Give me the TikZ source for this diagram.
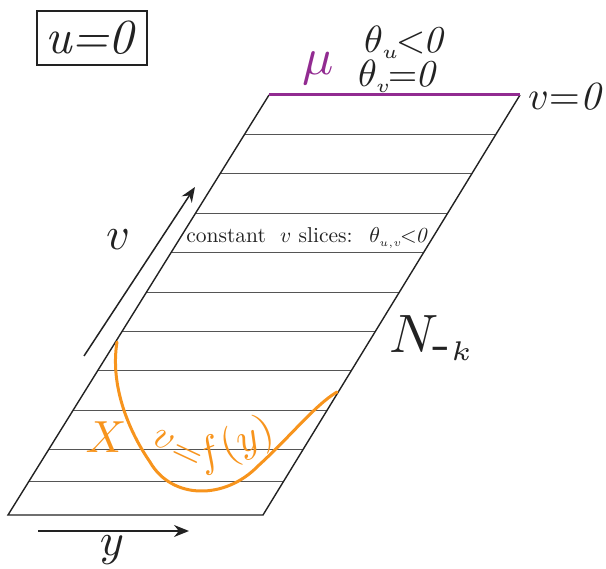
\documentclass[tikz,border=0pt]{standalone}
\usepackage{graphicx}
\usetikzlibrary{arrows.meta,calc}
\definecolor{mupurple}{HTML}{922B91}
\definecolor{curveorange}{HTML}{F7941D}
\definecolor{ink}{HTML}{222222}
\definecolor{slicegray}{HTML}{555555}
\tikzset{
  edge/.style={draw=ink, line width=1.4pt, line join=miter},
  slice/.style={draw=slicegray, line width=0.9pt},
  axisarrow/.style={draw=ink, line width=1.5pt, -{Stealth[length=15pt,width=12pt]}},
  lbl/.style={text=ink, inner sep=0pt},
  orangelbl/.style={text=curveorange, inner sep=0pt},
}
\newcommand{\sz}[2]{\scalebox{#1}{#2}}
\newcommand{\ssub}[1]{_{\scriptscriptstyle #1}}
\begin{document}
\begin{tikzpicture}[x=1pt,y=-1pt]
\useasboundingbox (0,0) rectangle (606,569);
% parallelogram corners
\coordinate (BL) at (8,515);
\coordinate (BR) at (263,515);
\coordinate (TL) at (269,95);
\coordinate (TR) at (520,95);
% slices
\foreach \t in {0.9071,0.8143,0.7190,0.6262,0.5310,0.4381,0.3452,0.2500,0.1571,0.0810}{
  \draw[slice] ($(BL)!\t!(TL)$) -- ($(BR)!\t!(TR)$);
}
% edges
\draw[edge] (TL) -- (BL) -- (BR) -- (TR);
\draw[draw=mupurple, line width=3pt] (TL) -- (TR);
% axis arrows
\coordinate (vtail) at (84,356);
\coordinate (vhead) at (195,187);
\coordinate (ytail) at (38,531);
\coordinate (yhead) at (189,531);
\draw[axisarrow] (vtail) -- (vhead);
\draw[axisarrow] (ytail) -- (yhead);
% orange curve
\coordinate (c0) at (117,342);
\coordinate (c1) at (150,462);
\coordinate (c2) at (258,466);
\coordinate (c3) at (337,392);
\draw[draw=curveorange, line width=3pt, line cap=round]
  (c0) .. controls (110,385) and (128,430) .. (c1)
       .. controls (172,500) and (225,500) .. (c2)
       .. controls (290,437) and (315,405) .. (c3);
% labels
\node[lbl, draw=ink, line width=1.3pt, minimum width=110pt, minimum height=54pt] (ubox) at (92,38) {\sz{4.9}{\itshape u=0\kern1pt}};
\node[lbl, text=mupurple] (mu) at (318,68) {\sz{5.2}{$\mu$}};
\node[lbl] (thu) at (406,42) {\sz{3.8}{$\theta\ssub{u}\mkern-2mu{<}\mkern-1mu\mathit{0}$}};
\node[lbl] (thv) at (399,76) {\sz{3.8}{$\theta\ssub{v}\mkern-2mu{=}\mkern-1mu\mathit{0}$}};
\node[lbl] (v0) at (567,97) {\sz{4.0}{$v{=}\mathit{0}$}};
\node[lbl] (vl) at (118,240) {\sz{4.6}{$v$}};
\node[lbl] (yl) at (112,550) {\sz{4.6}{$y$}};
\node[lbl] (Nk) at (432,338) {\sz{5.4}{$N\ssub{\textrm{-}k}$}};
\node[lbl] (slices) at (308,238) {\sz{2.15}{constant~ $v$ slices:~ $\theta\ssub{u,v}\mkern-2mu{<}\mkern-1mu\mathit{0}$}};
\node[orangelbl] (X) at (106,437) {\sz{4.5}{$X$}};
\node[orangelbl, rotate=-30] (fv) at (163,440) {\sz{3.9}{$v$}};
\node[orangelbl, rotate=-25] (feq) at (186,456) {\sz{3.9}{$=$}};
\node[orangelbl, rotate=22] (ffy) at (236,445) {\sz{4.2}{$f(y)$}};
\end{tikzpicture}
\end{document}
